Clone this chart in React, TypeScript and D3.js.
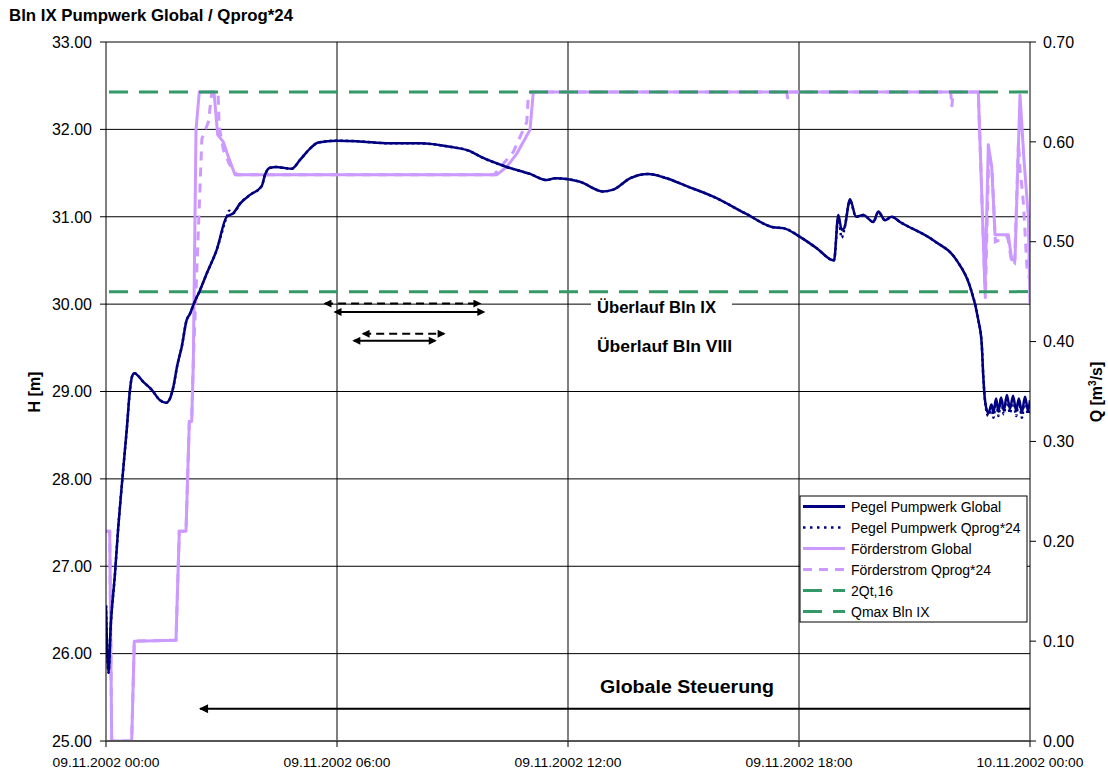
import React from 'react';
import * as d3 from 'd3';

// ---------- data ----------
const xTicks = [0, 6, 12, 18, 24];
const xTickLabels = ['09.11.2002 00:00', '09.11.2002 06:00', '09.11.2002 12:00', '09.11.2002 18:00', '10.11.2002 00:00'];
const hTicks = [25, 26, 27, 28, 29, 30, 31, 32, 33];
const qTicks = [0, 0.1, 0.2, 0.3, 0.4, 0.5, 0.6, 0.7];

// [hour, H in m]
const pegelGlobal: [number, number][] = [
  [0.0, 26.55], [0.065, 25.78], [0.122, 26.31], [0.234, 26.92], [0.319, 27.45], [0.423, 27.99],
  [0.538, 28.56], [0.623, 29.02], [0.675, 29.17], [0.735, 29.21], [0.969, 29.11], [1.187, 29.02],
  [1.403, 28.9], [1.558, 28.87], [1.662, 28.92], [1.748, 29.05], [1.852, 29.3], [1.966, 29.51],
  [2.096, 29.82], [2.182, 29.89], [2.268, 29.99], [2.442, 30.16], [2.616, 30.35], [2.875, 30.62],
  [3.135, 31.0], [3.306, 31.04], [3.481, 31.15], [3.74, 31.25], [4.044, 31.35], [4.13, 31.48],
  [4.26, 31.56], [4.434, 31.57], [4.605, 31.56], [4.823, 31.55], [5.039, 31.65], [5.299, 31.78],
  [5.514, 31.85], [5.992, 31.87], [6.512, 31.865], [7.377, 31.84], [8.156, 31.84], [8.935, 31.8],
  [9.455, 31.75], [9.714, 31.69], [10.408, 31.57], [11.013, 31.49], [11.447, 31.42], [11.662, 31.44],
  [12.008, 31.43], [12.312, 31.4], [12.917, 31.29], [13.177, 31.31], [13.61, 31.44], [14.086, 31.49],
  [14.564, 31.44], [15.083, 31.35], [15.774, 31.23], [16.642, 31.03], [17.332, 30.88], [17.592, 30.87],
  [18.026, 30.77], [18.46, 30.64], [18.909, 30.5], [19.021, 31.02], [19.109, 30.85], [19.177, 30.87],
  [19.325, 31.2], [19.481, 31.0], [19.67, 31.02], [19.93, 30.94], [20.06, 31.06], [20.234, 30.96],
  [20.408, 31.0], [20.623, 30.94], [21.488, 30.73], [22.096, 30.5], [22.442, 30.2], [22.657, 29.82],
  [22.745, 29.55], [22.787, 29.17], [22.831, 28.9], [22.917, 28.75], [23.0, 28.85], [23.05, 28.76],
  [23.12, 28.92], [23.18, 28.77], [23.25, 28.93], [23.32, 28.78], [23.4, 28.96], [23.48, 28.8],
  [23.56, 28.95], [23.64, 28.78], [23.71, 28.92], [23.79, 28.76], [23.87, 28.94], [23.95, 28.78],
  [24.0, 28.9],
];

const pegelQprog: [number, number][] = [
  [0.0, 26.55], [0.065, 25.78], [0.122, 26.31], [0.234, 26.92], [0.319, 27.45], [0.423, 27.99],
  [0.538, 28.56], [0.623, 29.02], [0.675, 29.17], [0.735, 29.21], [0.969, 29.11], [1.187, 29.02],
  [1.403, 28.9], [1.558, 28.87], [1.662, 28.92], [1.748, 29.05], [1.852, 29.3], [1.966, 29.51],
  [2.096, 29.82], [2.182, 29.89], [2.268, 29.99], [2.442, 30.16], [2.616, 30.35], [2.875, 30.62],
  [3.135, 31.0], [3.2, 31.07], [3.306, 31.04], [3.481, 31.15], [3.74, 31.25], [4.044, 31.35], [4.13, 31.48],
  [4.26, 31.56], [4.434, 31.57], [4.605, 31.56], [4.823, 31.55], [5.039, 31.65], [5.299, 31.78],
  [5.514, 31.85], [5.992, 31.87], [6.512, 31.865], [7.377, 31.84], [8.156, 31.84], [8.935, 31.8],
  [9.455, 31.75], [9.714, 31.69], [10.408, 31.57], [11.013, 31.49], [11.447, 31.42], [11.662, 31.44],
  [12.008, 31.43], [12.312, 31.4], [12.917, 31.29], [13.177, 31.31], [13.61, 31.44], [14.086, 31.49],
  [14.564, 31.44], [15.083, 31.35], [15.774, 31.23], [16.642, 31.03], [17.332, 30.88], [17.592, 30.87],
  [18.026, 30.77], [18.46, 30.64], [18.909, 30.5], [19.021, 31.0], [19.109, 30.76], [19.177, 30.86],
  [19.325, 31.18], [19.481, 31.0], [19.67, 31.02], [19.93, 30.94], [20.06, 31.05], [20.234, 30.96],
  [20.408, 31.0], [20.623, 30.94], [21.488, 30.73], [22.096, 30.5], [22.442, 30.2], [22.657, 29.82],
  [22.745, 29.55], [22.787, 29.17], [22.831, 28.9], [22.917, 28.72], [23.0, 28.82], [23.05, 28.7],
  [23.12, 28.9], [23.18, 28.72], [23.25, 28.92], [23.32, 28.74], [23.4, 28.94], [23.48, 28.75],
  [23.56, 28.93], [23.64, 28.72], [23.71, 28.9], [23.79, 28.7], [23.87, 28.92], [23.95, 28.74],
  [24.0, 28.88],
];

// [hour, Q in m3/s]
const foerderGlobal: [number, number][] = [
  [0.0, 0.21], [0.096, 0.21], [0.148, 0.0], [0.667, 0.0], [0.735, 0.1], [1.818, 0.101],
  [1.904, 0.21], [2.078, 0.21], [2.164, 0.32], [2.226, 0.32], [2.268, 0.38], [2.338, 0.612],
  [2.423, 0.65], [2.805, 0.65], [2.901, 0.607], [3.047, 0.6], [3.177, 0.585], [3.351, 0.567],
  [10.148, 0.567], [10.408, 0.575], [10.668, 0.588], [11.013, 0.612], [11.099, 0.65],
  [22.657, 0.65], [22.831, 0.4516], [22.917, 0.597], [23.005, 0.575], [23.091, 0.507],
  [23.436, 0.507], [23.525, 0.482], [23.61, 0.482], [23.74, 0.647], [23.844, 0.582],
  [23.956, 0.525], [24.0, 0.438],
];

const foerderQprog: [number, number][] = [
  [0.0, 0.21], [0.096, 0.21], [0.148, 0.0], [0.667, 0.0], [0.735, 0.1], [1.818, 0.101],
  [1.904, 0.21], [2.078, 0.21], [2.164, 0.32], [2.226, 0.32], [2.268, 0.38], [2.49, 0.603],
  [2.66, 0.62], [2.75, 0.65], [2.91, 0.65], [2.94, 0.615], [3.05, 0.592], [3.2, 0.578], [3.4, 0.567],
  [10.08, 0.567], [10.58, 0.59], [10.93, 0.62], [10.97, 0.647], [11.04, 0.65],
  [17.68, 0.65], [17.71, 0.643], [17.74, 0.65], [21.94, 0.65], [21.97, 0.635], [22.0, 0.65],
  [22.657, 0.65], [22.84, 0.443], [22.93, 0.59], [23.02, 0.57], [23.1, 0.5],
  [23.42, 0.505], [23.53, 0.478], [23.6, 0.478], [23.7, 0.6], [23.74, 0.572], [23.79, 0.555],
  [23.83, 0.538], [23.92, 0.475], [24.0, 0.46],
];

const qMaxBlnIX = 0.65;
const twoQt16 = 0.45;

// annotation arrows: [fromHour, toHour, H]
const overflowIXDashed = [5.69, 9.71, 30.006];
const overflowIXSolid = [5.95, 9.81, 29.91];
const overflowVIIIDashed = [6.68, 8.78, 29.66];
const overflowVIIISolid = [6.44, 8.55, 29.58];
const globalArrow = [24, 2.44, 25.37];

const legendItems = [
  { label: 'Pegel Pumpwerk Global', color: '#000080', dash: '', width: 3 },
  { label: 'Pegel Pumpwerk Qprog*24', color: '#000080', dash: '2.5,4.5', width: 2.5 },
  { label: 'Förderstrom Global', color: '#cc99ff', dash: '', width: 3 },
  { label: 'Förderstrom Qprog*24', color: '#cc99ff', dash: '9,7', width: 3 },
  { label: '2Qt,16', color: '#339966', dash: '19,11', width: 3 },
  { label: 'Qmax Bln IX', color: '#339966', dash: '19,11', width: 3 },
];

const FONT = '"Liberation Sans", Arial, Helvetica, sans-serif';

export default function App() {
  const left = 106, right = 1030, top = 42, bottom = 741;
  const x = d3.scaleLinear().domain([0, 24]).range([left, right]);
  const yH = d3.scaleLinear().domain([25, 33]).range([bottom, top]);
  const yQ = d3.scaleLinear().domain([0, 0.7]).range([bottom, top]);

  const lineH = d3.line<[number, number]>().x(d => x(d[0])).y(d => yH(d[1])).curve(d3.curveMonotoneX);
  const lineQ = d3.line<[number, number]>().x(d => x(d[0])).y(d => yQ(d[1]));

  const legX = 800, legY = 496, legW = 227, legH = 126;

  const arrow = (a: number[], dashed: boolean, both: boolean, marker: string) => (
    <line x1={x(a[0])} x2={x(a[1])} y1={yH(a[2])} y2={yH(a[2])}
      stroke="#000" strokeWidth={2} strokeDasharray={dashed ? '8,5' : undefined}
      markerStart={both ? `url(#${marker})` : undefined} markerEnd={`url(#${marker})`} />
  );

  return (
    <svg width={1108} height={774} style={{ position: 'absolute', left: 0, top: 0, background: '#fff' }}
      fontFamily={FONT}>
      <defs>
        <marker id="ah" viewBox="0 0 10 10" refX="8" refY="5" markerWidth="10" markerHeight="8"
          markerUnits="userSpaceOnUse" orient="auto-start-reverse">
          <path d="M10,5 L0,0 L0,10 Z" fill="#000" />
        </marker>
        <marker id="ahBig" viewBox="0 0 10 10" refX="9" refY="5" markerWidth="13" markerHeight="9"
          markerUnits="userSpaceOnUse" orient="auto-start-reverse">
          <path d="M10,5 L0,0 L0,10 Z" fill="#000" />
        </marker>
        <clipPath id="plotClip">
          <rect x={left} y={top - 5} width={right - left} height={bottom - top + 6} />
        </clipPath>
      </defs>
      <rect x={0} y={0} width={1108} height={774} fill="#fff" />

      {/* title */}
      <text x={9} y={21} fontSize={16.5} fontWeight="bold" textLength={284} lengthAdjust="spacingAndGlyphs">Bln IX Pumpwerk Global / Qprog*24</text>

      {/* gridlines */}
      {hTicks.map(t => (
        <line key={'gh' + t} x1={left} x2={right} y1={yH(t)} y2={yH(t)} stroke="#000" strokeWidth={1} />
      ))}
      {xTicks.slice(1, 4).map(t => (
        <line key={'gv' + t} x1={x(t)} x2={x(t)} y1={top} y2={bottom} stroke="#000" strokeWidth={1} />
      ))}

      {/* series */}
      <g clipPath="url(#plotClip)">
        <path d={lineQ(foerderGlobal) || ''} fill="none" stroke="#cc99ff" strokeWidth={3} strokeLinejoin="round" />
        <path d={lineQ(foerderQprog) || ''} fill="none" stroke="#cc99ff" strokeWidth={3} strokeDasharray="9,7" />
        <line x1={left} x2={right} y1={yQ(qMaxBlnIX)} y2={yQ(qMaxBlnIX)} stroke="#339966" strokeWidth={3} strokeDasharray="19,11" strokeDashoffset={-3} />
        <line x1={left} x2={right} y1={yQ(twoQt16)} y2={yQ(twoQt16)} stroke="#339966" strokeWidth={3} strokeDasharray="19,11" strokeDashoffset={-3} />
        <path d={lineH(pegelQprog) || ''} fill="none" stroke="#000080" strokeWidth={2.5} strokeDasharray="2.5,3" />
        <path d={lineH(pegelGlobal) || ''} fill="none" stroke="#000080" strokeWidth={2.5} strokeLinejoin="round" />
      </g>

      {/* axes */}
      <line x1={left} x2={left} y1={top} y2={bottom} stroke="#000" strokeWidth={1} />
      <line x1={right} x2={right} y1={top} y2={bottom} stroke="#000" strokeWidth={1} />
      <line x1={left} x2={right} y1={bottom} y2={bottom} stroke="#555" strokeWidth={2} />
      {hTicks.map(t => (
        <g key={'lt' + t}>
          <line x1={left - 6} x2={left} y1={yH(t)} y2={yH(t)} stroke="#000" />
          <text x={92} y={yH(t)} dy="0.36em" textAnchor="end" fontSize={16}>{t.toFixed(2)}</text>
        </g>
      ))}
      {qTicks.map(t => (
        <g key={'rt' + t}>
          <line x1={right} x2={right + 6} y1={yQ(t)} y2={yQ(t)} stroke="#000" />
          <text x={1043} y={yQ(t)} dy="0.36em" textAnchor="start" fontSize={16}>{t.toFixed(2)}</text>
        </g>
      ))}
      {xTicks.map((t, i) => (
        <g key={'xt' + t}>
          <line x1={x(t)} x2={x(t)} y1={bottom} y2={bottom + 6} stroke="#000" />
          <text x={x(t)} y={767} textAnchor="middle" fontSize={13} textLength={107} lengthAdjust="spacingAndGlyphs">{xTickLabels[i]}</text>
        </g>
      ))}

      {/* axis titles */}
      <text transform={`translate(40,392) rotate(-90)`} textAnchor="middle" fontSize={16} fontWeight="bold">H [m]</text>
      <text transform={`translate(1102,392) rotate(-90)`} textAnchor="middle" fontSize={16} fontWeight="bold">
        Q [m<tspan dy="-6" fontSize={10}>3</tspan><tspan dy="6">/s]</tspan>
      </text>

      {/* annotations */}
      {arrow(overflowIXDashed, true, true, 'ah')}
      {arrow(overflowIXSolid, false, true, 'ah')}
      {arrow(overflowVIIIDashed, true, true, 'ah')}
      {arrow(overflowVIIISolid, false, true, 'ah')}
      {arrow(globalArrow, false, false, 'ahBig')}

      <rect x={591} y={296} width={141} height={22} fill="#fff" />
      <text x={597} y={313} fontSize={16} fontWeight="bold" textLength={119} lengthAdjust="spacingAndGlyphs">Überlauf Bln IX</text>
      <text x={597} y={352} fontSize={16} fontWeight="bold" textLength={135} lengthAdjust="spacingAndGlyphs">Überlauf Bln VIII</text>
      <text x={600} y={693} fontSize={18} fontWeight="bold" textLength={174} lengthAdjust="spacingAndGlyphs">Globale Steuerung</text>

      {/* legend */}
      <rect x={legX} y={legY} width={legW} height={legH} fill="#fff" stroke="#000" strokeWidth={1} />
      {legendItems.map((it, i) => {
        const cy = legY + 10.5 + i * 21;
        return (
          <g key={it.label}>
            <line x1={803} x2={845} y1={cy} y2={cy} stroke={it.color} strokeWidth={it.width}
              strokeDasharray={it.dash || undefined} />
            <text x={851} y={cy} dy="0.36em" fontSize={14}>{it.label}</text>
          </g>
        );
      })}
    </svg>
  );
}
